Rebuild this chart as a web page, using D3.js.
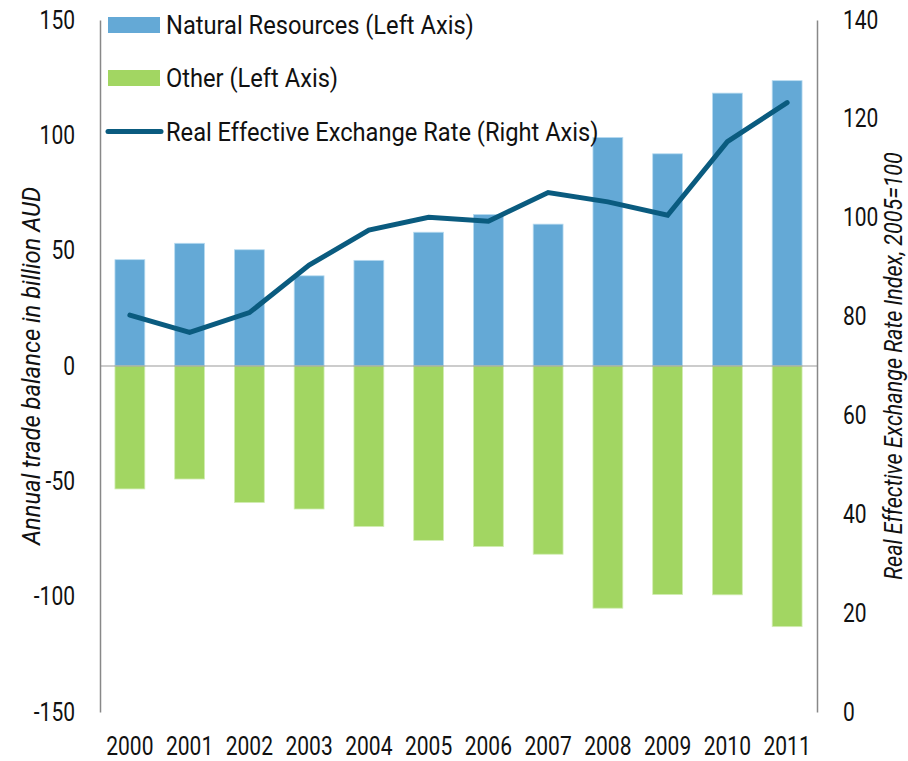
<!DOCTYPE html>
<html>
<head>
<meta charset="utf-8">
<script src="https://cdn.jsdelivr.net/npm/d3@7"></script>
<style>
  body { margin: 0; background: #fff; }
  text { font-family: Roboto, "Liberation Sans", sans-serif; fill: #111; }
</style>
</head>
<body>
<div id="canvas"></div>
<script>
const years = ["2000", "2001", "2002", "2003", "2004", "2005", "2006", "2007", "2008", "2009", "2010", "2011"];
const naturalResources = [46.1, 53.2, 50.4, 39.1, 45.8, 58.0, 65.7, 61.5, 99.1, 92.0, 118.3, 123.7];
const other = [-53.3, -49.0, -59.2, -62.0, -69.6, -75.6, -78.3, -81.6, -105.0, -99.1, -99.2, -113.0];
const reer = [80.3, 76.8, 80.8, 90.4, 97.5, 100.1, 99.3, 105.1, 103.2, 100.5, 115.4, 123.3];
const leftTicks = [-150, -100, -50, 0, 50, 100, 150];
const rightTicks = [0, 20, 40, 60, 80, 100, 120, 140];
const legendLabels = ["Natural Resources (Left Axis)", "Other (Left Axis)", "Real Effective Exchange Rate (Right Axis)"];

const width = 908;
const height = 761;
const plotLeft = 100;
const plotRight = 817;
const plotTop = 20;
const plotBottom = 712;

const blue = "#64a9d6";
const green = "#a2d662";
const lineColor = "#0a5b7f";

// the original uses a condensed face; squeeze Roboto horizontally
function condense(factor) {
  return (sel) =>
    sel.each(function () {
      const w = this.getComputedTextLength();
      d3.select(this).attr("textLength", w * factor).attr("lengthAdjust", "spacingAndGlyphs");
    });
}

const xScale = d3.scaleBand(years, [plotLeft, plotRight]).paddingInner(0.5).paddingOuter(0.25);
const yLeft = d3.scaleLinear([-150, 150], [plotBottom, plotTop]);
const yRight = d3.scaleLinear([0, 140], [plotBottom, plotTop]);

const svg = d3
  .select("#canvas")
  .append("svg")
  .attr("width", width)
  .attr("height", height)
  .attr("viewBox", [0, 0, width, height]);

// bars
svg
  .append("g")
  .selectAll("rect")
  .data(years)
  .join("rect")
  .attr("x", (d) => xScale(d))
  .attr("width", xScale.bandwidth())
  .attr("y", (d, i) => yLeft(naturalResources[i]))
  .attr("height", (d, i) => yLeft(0) - yLeft(naturalResources[i]))
  .attr("fill", blue)
  .attr("stroke", "#b8dbf0")
  .attr("stroke-width", 0.8);

svg
  .append("g")
  .selectAll("rect")
  .data(years)
  .join("rect")
  .attr("x", (d) => xScale(d))
  .attr("width", xScale.bandwidth())
  .attr("y", yLeft(0))
  .attr("height", (d, i) => yLeft(other[i]) - yLeft(0))
  .attr("fill", green)
  .attr("stroke", "#d3edb4")
  .attr("stroke-width", 0.8);

// zero line
svg
  .append("line")
  .attr("x1", plotLeft)
  .attr("x2", plotRight)
  .attr("y1", yLeft(0))
  .attr("y2", yLeft(0))
  .attr("stroke", "#999")
  .attr("stroke-width", 1.2);

// left axis
const leftAxis = d3
  .axisLeft(yLeft)
  .tickValues(leftTicks)
  .tickFormat((d) => String(d))
  .tickSize(0)
  .tickPadding(25);
svg
  .append("g")
  .attr("transform", `translate(${plotLeft},0)`)
  .call(leftAxis)
  .call((g) => g.select(".domain").attr("stroke", "#888").attr("stroke-width", 1.5))
  .call((g) => g.selectAll(".tick text").attr("font-size", 25).attr("font-family", null).call(condense(0.84)));

// right axis
const rightAxis = d3
  .axisRight(yRight)
  .tickValues(rightTicks)
  .tickFormat((d) => String(d))
  .tickSize(0)
  .tickPadding(26);
svg
  .append("g")
  .attr("transform", `translate(${plotRight},0)`)
  .call(rightAxis)
  .call((g) => g.select(".domain").attr("stroke", "#888").attr("stroke-width", 1.5))
  .call((g) => g.selectAll(".tick text").attr("font-size", 25).attr("font-family", null).call(condense(0.84)));

// x labels
svg
  .append("g")
  .selectAll("text")
  .data(years)
  .join("text")
  .attr("x", (d) => xScale(d) + xScale.bandwidth() / 2)
  .attr("y", 755)
  .attr("text-anchor", "middle")
  .attr("font-size", 25)
  .text((d) => d)
  .call(condense(0.84));

// exchange rate line
const line = d3
  .line()
  .x((d, i) => xScale(years[i]) + xScale.bandwidth() / 2)
  .y((d) => yRight(d));

svg
  .append("path")
  .attr("fill", "none")
  .attr("stroke", lineColor)
  .attr("stroke-width", 5)
  .attr("stroke-linecap", "round")
  .attr("stroke-linejoin", "miter")
  .attr("d", line(reer));

// axis titles
svg
  .append("text")
  .attr("transform", `translate(31,${yLeft(0)}) rotate(-90)`)
  .attr("text-anchor", "middle")
  .attr("dy", "0.35em")
  .attr("font-size", 25)
  .attr("font-style", "italic")
  .text("Annual trade balance in billion AUD")
  .call(condense(0.95));

svg
  .append("text")
  .attr("transform", `translate(893,${yLeft(0)}) rotate(-90)`)
  .attr("text-anchor", "middle")
  .attr("dy", "0.35em")
  .attr("font-size", 25)
  .attr("font-style", "italic")
  .text("Real Effective Exchange Rate Index, 2005=100")
  .call(condense(0.86));

// legend
const legend = svg.append("g").attr("transform", "translate(108,0)");
legend.append("rect").attr("x", 0).attr("y", 17).attr("width", 52).attr("height", 16).attr("fill", blue);
legend.append("rect").attr("x", 0).attr("y", 70).attr("width", 52).attr("height", 16).attr("fill", green);
legend
  .append("line")
  .attr("x1", 0)
  .attr("x2", 53)
  .attr("y1", 131.5)
  .attr("y2", 131.5)
  .attr("stroke", lineColor)
  .attr("stroke-width", 5)
  .attr("stroke-linecap", "round");

legend
  .selectAll("text.lbl")
  .data(legendLabels)
  .join("text")
  .attr("class", "lbl")
  .attr("x", 58)
  .attr("y", (d, i) => [25, 78, 131.5][i])
  .attr("dy", "0.35em")
  .attr("font-size", 26)
  .text((d) => d)
  .call(condense(0.91));
</script>
</body>
</html>
